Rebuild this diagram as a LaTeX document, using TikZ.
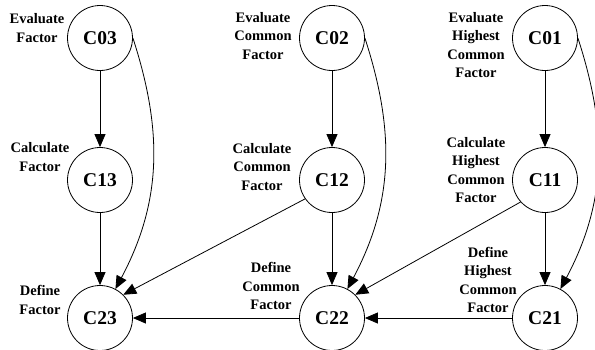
\documentclass[tikz,border=0pt]{standalone}
\usepackage{fontspec}
\setmainfont{Liberation Serif}
\usetikzlibrary{arrows.meta}
\begin{document}
\begin{tikzpicture}[x=1pt,y=-1pt,
  state/.style={circle,draw,line width=0.8pt,minimum size=65pt,inner sep=0pt,font=\bfseries\fontsize{19.5}{20}\selectfont},
  lbl/.style={align=center,inner sep=0pt,font=\bfseries\fontsize{14.5}{18.5}\selectfont},
  arr/.style={line width=0.8pt,-{Triangle[length=13pt,width=11pt]}}]
\useasboundingbox (0,0) rectangle (595,349);
\node[state] (C03) at (100,38) {C03};
\node[state] (C02) at (332,38) {C02};
\node[state] (C01) at (545,38) {C01};
\node[state] (C13) at (100,180) {C13};
\node[state] (C12) at (332,180) {C12};
\node[state] (C11) at (545,180) {C11};
\node[state] (C23) at (100,318) {C23};
\node[state] (C22) at (332,318) {C22};
\node[state] (C21) at (545,318) {C21};
\node[lbl] (L03) at (37,28) {Evaluate\\Factor};
\node[lbl] (L02) at (263,36) {Evaluate\\Common\\Factor};
\node[lbl] (L01) at (476,45) {Evaluate\\Highest\\Common\\Factor};
\node[lbl] (L13) at (40,157) {Calculate\\Factor};
\node[lbl] (L12) at (262,167) {Calculate\\Common\\Factor};
\node[lbl] (L11) at (476,170) {Calculate\\Highest\\Common\\Factor};
\node[lbl] (L23) at (40,300) {Define\\Factor};
\node[lbl] (L22) at (271,286) {Define\\Common\\Factor};
\node[lbl] (L21) at (488,280) {Define\\Highest\\Common\\Factor};
\draw[arr] (C03) -- (C13);
\draw[arr] (C13) -- (C23);
\draw[arr] (C02) -- (C12);
\draw[arr] (C12) -- (C22);
\draw[arr] (C01) -- (C11);
\draw[arr] (C11) -- (C21);
\draw[arr] (C22) -- (C23);
\draw[arr] (C21) -- (C22);
\draw[arr] (C12.215) -- (C23.45);
\draw[arr] (C11.222) -- (C22.45);
\draw[arr] (C03.east) to[out=-72,in=62] (C23.62);
\draw[arr] (C02.east) to[out=-72,in=62] (C22.62);
\draw[arr] (C01.east) to[out=-72,in=62] (C21.62);
\end{tikzpicture}
\end{document}
